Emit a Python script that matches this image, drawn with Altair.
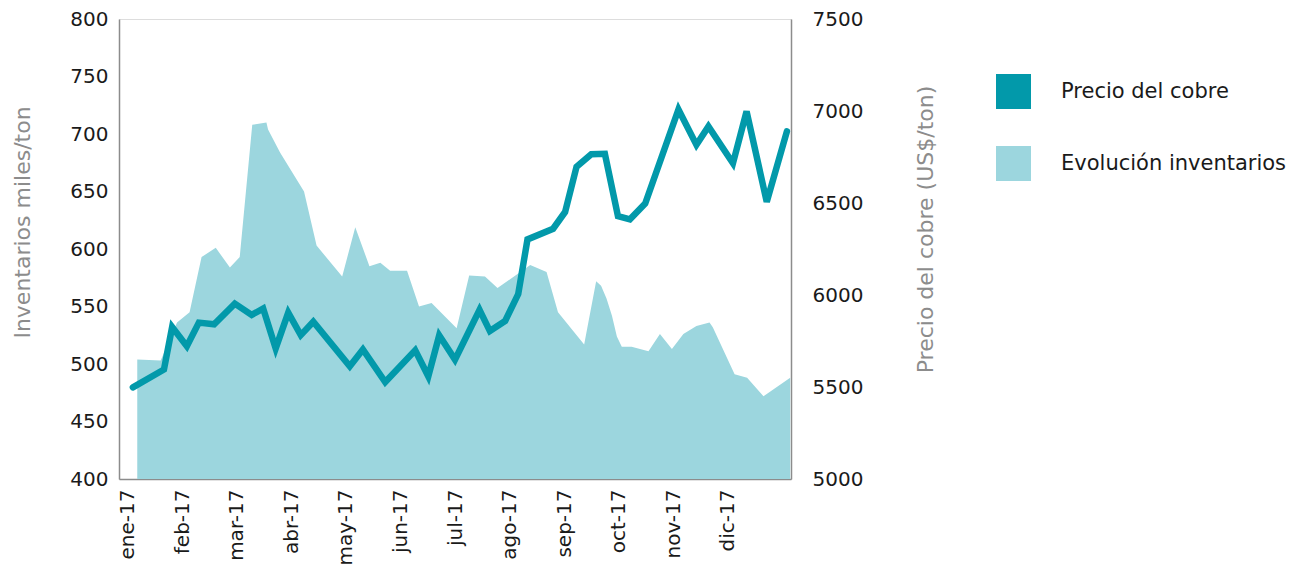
import json
import altair as alt
import pandas as pd

# ---- data ----
meses = ["ene-17", "feb-17", "mar-17", "abr-17", "may-17", "jun-17",
         "jul-17", "ago-17", "sep-17", "oct-17", "nov-17", "dic-17"]

# copper price (US$/ton); x = position in months (0 = ene-17)
precio_mes = [0.09, 0.66, 0.81, 1.08, 1.30, 1.58, 1.96, 2.27, 2.48, 2.71,
              2.94, 3.17, 3.40, 4.07, 4.31, 4.72, 5.27, 5.51, 5.71, 6.00,
              6.45, 6.64, 6.92, 7.16, 7.33, 7.80, 8.02, 8.23, 8.50, 8.75,
              8.99, 9.21, 9.49, 10.10, 10.43, 10.65, 11.10, 11.35, 11.72, 12.09]
precio_valor = [5498, 5595, 5826, 5722, 5850, 5841, 5953, 5892, 5926, 5710,
                5904, 5782, 5855, 5613, 5704, 5527, 5699, 5558, 5781, 5649,
                5919, 5804, 5859, 6005, 6302, 6360, 6451, 6697, 6765, 6767,
                6429, 6411, 6497, 7008, 6816, 6916, 6716, 6998, 6506, 6889]

# inventories (thousand tons)
inv_mes = [0.17, 0.60, 0.90, 1.13, 1.35, 1.61, 1.87, 2.05, 2.28, 2.54,
           2.57, 2.79, 3.01, 3.23, 3.46, 3.93, 4.17, 4.43, 4.63, 4.81,
           5.12, 5.34, 5.57, 6.03, 6.26, 6.55, 6.78, 7.38, 7.68, 7.89,
           8.37, 8.59, 8.68, 8.78, 8.88, 8.97, 9.06, 9.24, 9.55, 9.76,
           9.98, 10.19, 10.43, 10.67, 10.73, 11.13, 11.36, 11.66, 12.15]
inv_valor = [504, 503, 536, 545, 593, 601, 584, 593, 708, 710,
             704, 684, 667, 650, 603, 576, 619, 585, 588, 581,
             581, 550, 553, 531, 577, 576, 566, 586, 580, 545,
             517, 572, 568, 557, 542, 524, 515, 515, 511, 526,
             513, 526, 533, 536, 532, 491, 488, 472, 488]

series = ["Precio del cobre", "Evolución inventarios"]
colores = ["#0299aa", "#9cd6de"]

df_precio = pd.DataFrame({"mes": precio_mes, "valor": precio_valor, "serie": series[0]})
df_inv = pd.DataFrame({"mes": inv_mes, "valor": inv_valor, "serie": series[1]})

FONT = "DejaVu Sans"
GREY = "#8c8c8c"
TXT = "#1a1a1a"

x_scale = alt.Scale(domain=[-0.165, 12.165], nice=False, zero=False)
x_axis = alt.Axis(
    values=list(range(len(meses))),
    labelExpr=json.dumps(meses) + "[round(datum.value)]",
    title=None, labelAngle=270, labelFontSize=20, labelPadding=10,
    ticks=False, grid=False, domainColor=GREY, domainWidth=1.5,
    labelColor=TXT, labelFont=FONT,
)

color = alt.Color(
    "serie:N",
    scale=alt.Scale(domain=series, range=colores),
    legend=alt.Legend(
        title=None, orient="none", legendX=877, legendY=55,
        symbolType="square", symbolSize=1225, symbolStrokeWidth=0,
        symbolOpacity=1, labelFontSize=21, labelFont=FONT,
        labelColor=TXT, labelOffset=30, rowPadding=37,
        padding=0, labelLimit=400,
    ),
)

area = alt.Chart(df_inv).mark_area(clip=True, opacity=1).encode(
    x=alt.X("mes:Q", scale=x_scale, axis=x_axis),
    y=alt.Y("valor:Q", stack=None,
            scale=alt.Scale(domain=[400, 800], nice=False, zero=False),
            axis=alt.Axis(title="Inventarios miles/ton", orient="left",
                          values=list(range(400, 801, 50)),
                          labelFontSize=20, labelFont=FONT, labelColor=TXT,
                          labelPadding=11, titleFontSize=22, titleFont=FONT,
                          titleFontWeight="normal", titleColor=GREY,
                          titleAngle=270, titleBaseline="middle",
                          titleX=-97, titleY=203,
                          ticks=False, grid=False,
                          domainColor=GREY, domainWidth=1.5)),
    color=color,
)

line = alt.Chart(df_precio).mark_line(
    strokeWidth=6.5, strokeJoin="miter", strokeCap="round"
).encode(
    x=alt.X("mes:Q", scale=x_scale, axis=x_axis),
    y=alt.Y("valor:Q",
            scale=alt.Scale(domain=[5000, 7500], nice=False, zero=False),
            axis=alt.Axis(title="Precio del cobre (US$/ton)", orient="right",
                          values=list(range(5000, 7501, 500)), format="d",
                          labelFontSize=20, labelFont=FONT, labelColor=TXT,
                          labelPadding=21, titleFontSize=22, titleFont=FONT,
                          titleFontWeight="normal", titleColor=GREY,
                          titleAngle=270, titleBaseline="middle",
                          titleX=134, titleY=210,
                          ticks=False, grid=False,
                          domainColor=GREY, domainWidth=1.5)),
    color=color,
)

chart = alt.layer(area, line).resolve_scale(y="independent").properties(
    width=672, height=460,
    padding={"left": 3, "top": 1, "right": 5, "bottom": 5},
).configure_view(stroke=None).configure(background="white")

chart.save("out.html", embed_options={"renderer": "svg", "actions": False})
